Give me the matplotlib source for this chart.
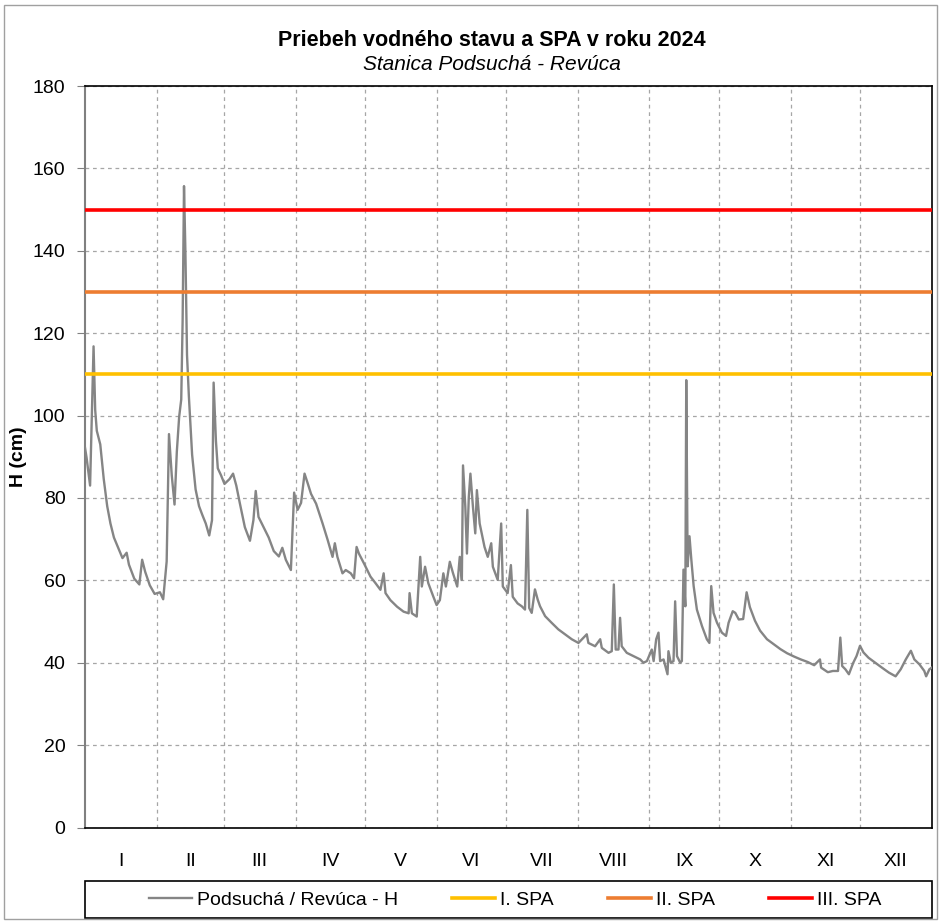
import numpy as np
import matplotlib
matplotlib.use("Agg")
import matplotlib.pyplot as plt
from matplotlib.patches import Rectangle

plt.rcParams['font.family'] = ['Liberation Sans', 'DejaVu Sans']

# mesiace roku 2024 (prestupny rok)
mesiace = ["I", "II", "III", "IV", "V", "VI", "VII", "VIII", "IX", "X", "XI", "XII"]
dni_v_mesiaci = [31, 29, 31, 30, 31, 30, 31, 31, 30, 31, 30, 31]

# den roka (od 1.1. 0:00) a vodny stav H [cm] odcitane z grafu
den = [0, 0.7, 2.2, 3.7, 4.4, 5.1, 6.6, 8.1, 9.6, 11, 12.5, 14, 16.2, 18, 19,
       21.3, 23.5, 24.7, 26, 28, 30.1, 32.4, 33.8, 35.3, 36.3, 37.5, 38.7,
       39.7, 40.7, 41.6, 42.2, 42.8, 43.4, 44.1, 44.9, 46.3, 47.8, 49.3, 50.7,
       52.2, 53.7, 54.9, 55.6, 56.6, 57.4, 58.8, 60.3, 62.5, 64, 65.4, 66.9,
       69.1, 71.3, 72.8, 73.8, 75, 77.2, 79.4, 81.6, 83.8, 85.3, 86.8, 89,
       90.4, 91.9, 93.4, 94.9,
       96.3, 97.7, 99.9, 101.3, 102.7, 104.9, 107, 108, 109.1, 111.3, 112.7,
       114.9, 116.3, 117.4, 118.4, 120.6, 123.4, 125.6, 127.7, 129.1, 129.9,
       132, 134.9, 137.7, 139.9, 140.3, 141.3, 143.4, 144.9, 145.6, 147, 148.4,
       150.6, 152, 153.4, 154.9, 156, 157.7, 159.1, 160.9, 162, 162.9, 163.4,
       164.4, 165.1, 165.9, 166.6, 167.7, 168.7, 169.4, 170.6, 172.7, 174.1,
       175.6, 176.3, 178.4, 179.9, 180.6, 182.7, 184.1, 184.9, 187,
       188.8, 190.2, 191.2, 192, 193.1, 194.5, 195.7, 196.7, 198.9, 201.7,
       204.6, 207.5, 210.4, 213.3, 216.9, 217.6, 220.5, 222.7, 223.4, 226.3,
       227.7, 228.6, 229.4, 230.6, 231.3, 232, 234.2, 237.1, 240, 241.4, 242.9,
       245, 245.8, 246.9, 247.9, 248.6, 250.1, 251.8, 252.2, 253.2, 254.4,
       255.1, 255.9, 257.3, 258, 258.7, 259.5, 259.9, 260.5, 261.3, 262.1,
       263.1, 264.5, 266.7, 268.8, 269.9, 270.7, 271.7, 273.2, 275.3, 277.1,
       278.2, 280, 281.1, 282.6,
       284.5, 286, 287.4, 289.6, 291.8, 294.8, 297.7, 300.6, 303.5, 306.5,
       309.4, 312.3, 315.2, 317.7, 318.2, 321.1, 323.3, 325.5, 326.5, 327.3,
       328.7, 330.2, 332.1, 333.5, 335, 336.5, 338.7, 341.6, 344.5, 347.5,
       350.4, 352.6, 354.8, 357, 358.5, 360.7, 362.8, 363.6, 365, 366]

vodny_stav = [92.2, 89.7, 83, 116.8, 101.4, 96.3, 93, 84.6, 78, 73.8, 70.4,
              68.4, 65.4, 66.7, 63.8, 60.4, 59, 65, 62.1, 58.8, 56.7, 57.1,
              55.4, 64.6, 95.5, 85.5, 78.4, 91.3, 99.7, 103.9, 123, 155.7,
              139.8, 114.7, 104.7, 90.5, 82.1, 78, 75.9, 73.8, 70.9, 74.6, 108,
              93.8, 87.2, 85.5, 83.4, 84.6, 85.9, 83, 78.8, 72.9, 69.6, 74.6,
              81.7, 75.4, 72.9, 70.4, 67.1, 65.8, 67.9, 65, 62.5, 81.3, 77.1,
              78.8, 85.9,
              83.5, 81, 78.6, 76.2, 73.8, 69.8, 65.7, 69, 65.7, 61.7, 62.5,
              61.7, 60.5, 68.1, 66.5, 64.1, 60.9, 59.3, 57.7, 61.7, 56.9, 55.2,
              53.6, 52.4, 52, 56.9, 52, 51.2, 65.7, 58.5, 63.3, 59.3, 56, 54,
              55.2, 61.7, 58.5, 64.5, 61.7, 58.5, 65.7, 60.1, 87.9, 77.8, 66.5,
              80.2, 85.9, 77.8, 71.4, 81.9, 73.8, 68.1, 65.7, 69, 63.3, 60.1,
              73.8, 58.5, 56.9, 63.7, 56, 54.4,
              53.7, 52.9, 77.1, 53.3, 52.1, 57.8, 55.3, 53.7, 51.3, 49.7, 48.1,
              46.9, 45.7, 44.8, 46.9, 44.8, 44, 45.7, 43.6, 42.4, 42.8, 59,
              43.2, 43.2, 50.9, 44, 42.4, 41.6, 40.8, 40, 40.4, 43.2, 40.4,
              45.7, 47.3, 40.4, 40.8, 37.2, 42.8, 40, 40.4, 54.9, 41.6, 40,
              40.4, 62.6, 53.7, 108.6, 63.4, 70.7, 65, 58.6, 52.9, 48.9, 45.7,
              44.8, 58.6, 52.1, 49.7, 47.3, 46.5, 49.7, 52.5, 52.1, 50.5,
              50.6, 57.1, 53.5, 50.2, 47.8, 45.7, 44.5, 43.3, 42.3, 41.5, 40.8,
              40.2, 39.4, 40.8, 38.8, 37.7, 38, 38, 46.1, 39.2, 38.4, 37.2, 40,
              41.6, 44.1, 42.5, 41.2, 40, 38.8, 37.6, 36.7, 38.4, 40.8, 42.9,
              40.8, 39.6, 38, 36.7, 38.4, 38.8]

# stupne povodnovej aktivity
spa_nazvy = ["I. SPA", "II. SPA", "III. SPA"]
spa_hodnoty = [110, 130, 150]
spa_farby = ["#FFC000", "#ED7D31", "#FF0000"]

W, H = 940, 921
fig = plt.figure(figsize=(W / 100, H / 100), dpi=100)
ax = fig.add_axes([85 / W, 1 - 827.5 / H, (931.7 - 85) / W, (827.5 - 86) / H])

ax.plot(den, vodny_stav, color="#858585", lw=1.7, label="Podsuchá / Revúca - H", zorder=3)
for nazov, hodnota, farba in zip(spa_nazvy, spa_hodnoty, spa_farby):
    ax.axhline(hodnota, color=farba, lw=2.6, label=nazov, zorder=4)

hranice = np.cumsum([0] + dni_v_mesiaci)
stredy = (hranice[:-1] + hranice[1:]) / 2

ax.set_xlim(0, hranice[-1])
ax.set_ylim(0, 180)
ax.set_xticks(hranice[1:-1])
ax.set_xticklabels([])
ax.set_xticks(stredy, minor=True)
ax.set_xticklabels(mesiace, minor=True)
ax.tick_params(axis="x", which="both", length=0)
ax.tick_params(axis="x", which="minor", labelsize=14, pad=18)
ax.set_yticks(np.arange(0, 181, 20))
ax.tick_params(axis="y", labelsize=14, length=6, color="#808080", pad=8)

ax.grid(True, which="major", color="#a6a6a6", lw=0.9, linestyle=(0, (3, 3)))
ax.set_axisbelow(True)

for s in ["top", "right", "bottom"]:
    ax.spines[s].set_color("black")
    ax.spines[s].set_linewidth(1.2)
ax.spines["left"].set_color("#808080")
ax.spines["left"].set_linewidth(1.5)

ax.set_ylabel("H (cm)", fontsize=14, fontweight="bold", labelpad=4)

fig.text(492 / W, 1 - 40 / H, "Priebeh vodného stavu a SPA v roku 2024",
         ha="center", va="center", fontsize=15.5, fontweight="bold")
fig.text(492 / W, 1 - 65 / H, "Stanica Podsuchá - Revúca",
         ha="center", va="center", fontsize=15, style="italic")

# ramcek legendy a okraj obrazku
fig.patches.append(Rectangle((85 / W, 1 - 918 / H), (932 - 85) / W, (918 - 881) / H,
                             transform=fig.transFigure, fill=False,
                             edgecolor="black", lw=1.2))
fig.patches.append(Rectangle((4 / W, 1 - 919 / H), (937 - 4) / W, (919 - 5) / H,
                             transform=fig.transFigure, fill=False,
                             edgecolor="#a0a0a0", lw=1.0))

handles, labels = ax.get_legend_handles_labels()
fig.legend(handles, labels, loc="center", bbox_to_anchor=(515 / W, 1 - 900 / H),
           ncol=4, frameon=False, fontsize=14, handlelength=2.2,
           handletextpad=0.25, columnspacing=2.8)

fig.savefig("out.png", dpi=100)
